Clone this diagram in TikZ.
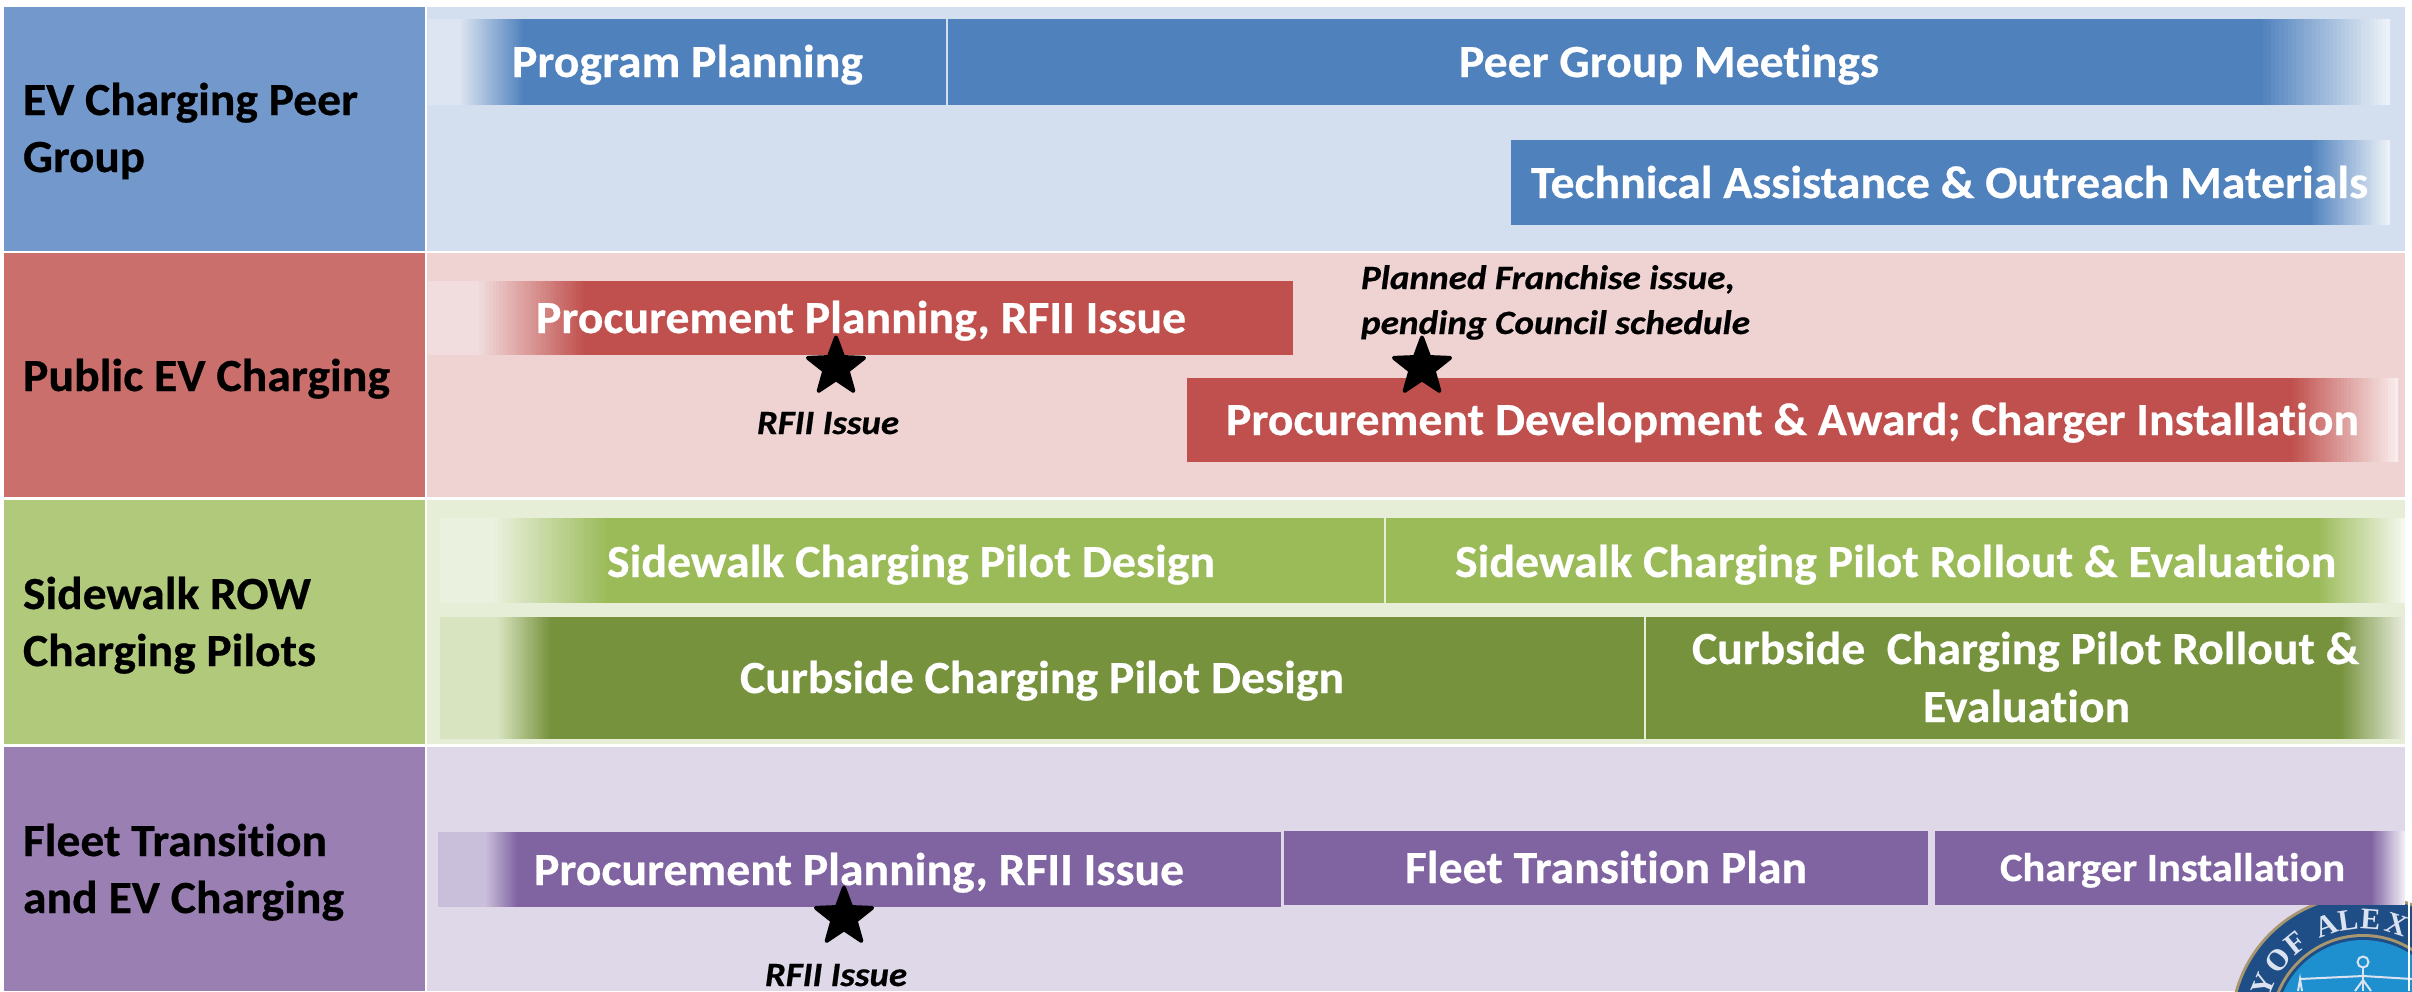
\documentclass[tikz,border=0pt]{standalone}
\usepackage{fontspec}
\usepackage{graphicx}
\setmainfont{Carlito}[Ligatures=NoCommon,BoldFeatures={FakeBold=0.5},BoldItalicFeatures={FakeBold=0.5}]
\newfontfamily\sealfont{Liberation Serif}
\usetikzlibrary{shapes.geometric}
\definecolor{cBlue}{HTML}{4F81BD}\definecolor{cBlueL}{HTML}{7399CC}\definecolor{cBlueB}{HTML}{D3DFEE}\definecolor{cBlueP}{HTML}{DCE5F1}
\definecolor{cRed}{HTML}{C0504D}\definecolor{cRedL}{HTML}{CB6F6C}\definecolor{cRedB}{HTML}{EFD3D3}\definecolor{cRedP}{HTML}{F1DDDD}
\definecolor{cGreen}{HTML}{9BBB59}\definecolor{cGreenL}{HTML}{B1C97B}\definecolor{cGreenB}{HTML}{E6EED7}\definecolor{cGreenP}{HTML}{EBF1DF}
\definecolor{cOlive}{HTML}{76923C}\definecolor{cOliveP}{HTML}{D8E4C0}
\definecolor{cPurple}{HTML}{8064A2}\definecolor{cPurpleL}{HTML}{9A80B2}\definecolor{cPurpleB}{HTML}{DFD8E8}\definecolor{cPurpleP}{HTML}{C9BFDA}
\definecolor{cNavy}{HTML}{1F4E86}\definecolor{cTan}{HTML}{A8966E}\definecolor{cSky}{HTML}{1E90D0}\definecolor{cSealW}{HTML}{DCE3F0}
\tikzset{
  block/.style={anchor=north west,inner sep=0pt,outer sep=0pt,draw=none},
  lbl/.style={anchor=base west,inner sep=0pt,outer sep=0pt},
  mile/.style={star,star points=5,star point ratio=2.4,fill=black,draw=black,line width=4pt,line join=round,inner sep=0pt,minimum size=59pt},
}
% name x1 y1 x2 y2 colour
\newcommand{\gblock}[6]{\pgfmathsetmacro\gw{#4-#2}\pgfmathsetmacro\gh{#5-#3}
  \node[block,fill=#6,minimum width=\gw pt,minimum height=\gh pt] (#1) at (#2,#3) {};}
% name x1 x2 baseline size fontcmd colour text
\newcommand{\gtext}[8]{\pgfmathsetmacro\gw{#3-#2}
  \node[lbl,text=#7] (#1) at (#2,#4) {\resizebox{\gw pt}{\height}{\fontsize{#5}{#5}\selectfont#6#8}};}
% stepped fade from colour A to colour B: xa xb y1 y2 A B
\newcommand{\hfade}[6]{\foreach \k in {0,...,32}{
    \pgfmathsetmacro\pc{\k*100/32}\pgfmathsetmacro\xk{#1+(#2-#1)*\k/32}
    \fill[#6!\pc!#5] (\xk,#3) rectangle (#2,#4);}}
% left fade: x1 xp xg y1 y2 pale col
\newcommand{\fadeL}[7]{\fill[#6] (#1,#4) rectangle (#2,#5);\hfade{#2}{#3}{#4}{#5}{#6}{#7}}
% right fade: xg xp y1 y2 col end
\newcommand{\fadeR}[6]{\hfade{#1}{#2}{#3}{#4}{#5}{#6}}
\begin{document}
\begin{tikzpicture}[x=1pt,y=-1pt]
\useasboundingbox (0,0) rectangle (2412,991);
\fill[white] (0,0) rectangle (2412,991);
% left cells
\gblock{cellA}{4}{7}{425}{251}{cBlueL}
\gblock{cellB}{4}{253}{425}{497}{cRedL}
\gblock{cellC}{4}{500}{425}{744}{cGreenL}
\gblock{cellD}{4}{747}{425}{991}{cPurpleL}
% bands
\gblock{bandA}{427}{7}{2405}{251}{cBlueB}
\gblock{bandB}{427}{253}{2405}{497}{cRedB}
\gblock{bandC}{427}{500}{2405}{744}{cGreenB}
\gblock{bandD}{427}{747}{2405}{991}{cPurpleB}
% seal
\begin{scope}
\clip (2200,880) rectangle (2412,991);
\fill[cTan] (2363,1027) circle (133);
\fill[cNavy] (2363,1027) circle (130);
\fill[cTan] (2363,1027) circle (93);
\fill[cNavy] (2363,1027) circle (90);
\fill[cSky] (2363,1027) circle (87);
\foreach \ltr/\ang in {Y/157,O/142,F/129,A/110,L/98,E/86,X/72}{
  \node[text=cSealW,inner sep=0pt,rotate=\ang-90,font=\sealfont\bfseries\fontsize{30}{30}\selectfont]
    (seal\ltr) at ({2363+108*cos(\ang)},{1027-108*sin(\ang)}) {\ltr};
}
\draw[cSealW,line width=2pt] (2363,962) circle (5.5);
\draw[cSealW,line width=2pt] (2300,979) -- (2363,976) -- (2412,979);
\draw[cSealW,line width=2pt] (2363,968) -- (2363,991);
\draw[cSealW,line width=2pt] (2298,991) -- (2300,979) -- (2302,991);
\draw[cSealW,line width=2pt] (2355,991) -- (2363,980) -- (2371,991);
\draw[white,line width=1.5pt] (2409,880) -- (2409,991);
\end{scope}
% bars
\gblock{barPP}{428}{19}{946}{105}{cBlue}
\gblock{barPG}{948}{19}{2390}{105}{cBlue}
\gblock{barTA}{1511}{140}{2390}{225}{cBlue}
\gblock{barRP}{428}{281}{1293}{355}{cRed}
\gblock{barRD}{1187}{378}{2398}{462}{cRed}
\gblock{barGA}{440}{518}{1384}{603}{cGreen}
\gblock{barGB}{1386}{518}{2405}{603}{cGreen}
\gblock{barOA}{440}{617}{1644}{739}{cOlive}
\gblock{barOB}{1646}{617}{2405}{739}{cOlive}
\gblock{barVA}{438}{832}{1281}{907}{cPurple}
\gblock{barVB}{1284}{831}{1928}{905}{cPurple}
\gblock{barVC}{1935}{831}{2405}{905}{cPurple}
% fades
\fadeL{428}{459}{523}{19}{105}{cBlueP}{cBlue}
\fadeR{2259}{2390}{19}{105}{cBlue}{white!92!cBlue}
\fadeR{2309}{2390}{140}{225}{cBlue}{white!92!cBlue}
\fadeL{428}{476}{583}{281}{355}{cRedP}{cRed}
\fadeR{2290}{2398}{378}{462}{cRed}{white!92!cRed}
\fadeL{440}{491}{606}{518}{603}{cGreenP}{cGreen}
\fadeR{2317}{2405}{518}{603}{cGreen}{white!92!cGreen}
\fadeL{440}{497}{550}{617}{739}{cOliveP}{cOlive}
\fadeR{2340}{2405}{617}{739}{cOlive}{white!85!cOlive}
\fadeL{438}{485}{517}{832}{907}{cPurpleP}{cPurple}
\fadeR{2371}{2405}{831}{905}{cPurple}{white!92!cPurple}
% left labels
\gtext{tA1}{23}{358}{115}{46}{\bfseries}{black}{EV Charging Peer}
\gtext{tA2}{23}{145}{172}{46}{\bfseries}{black}{Group}
\gtext{tB1}{23}{390}{391}{46}{\bfseries}{black}{Public EV Charging}
\gtext{tC1}{23}{311}{609}{46}{\bfseries}{black}{Sidewalk ROW}
\gtext{tC2}{23}{316}{666}{46}{\bfseries}{black}{Charging Pilots}
\gtext{tD1}{23}{327}{856}{46}{\bfseries}{black}{Fleet Transition}
\gtext{tD2}{23}{344}{913}{46}{\bfseries}{black}{and EV Charging}
% bar labels
\gtext{lPP}{512}{863}{77}{46}{\bfseries}{white}{Program Planning}
\gtext{lPG}{1459}{1879}{77}{46}{\bfseries}{white}{Peer Group Meetings}
\gtext{lTA}{1531}{2368}{198}{46}{\bfseries}{white}{Technical Assistance \& Outreach Materials}
\gtext{lRP}{536}{1186}{333}{46}{\bfseries}{white}{Procurement Planning, RFII Issue}
\gtext{lRD}{1226}{2359}{435}{46}{\bfseries}{white}{Procurement Development \& Award; Charger Installation}
\gtext{lGA}{607}{1215}{577}{46}{\bfseries}{white}{Sidewalk Charging Pilot Design}
\gtext{lGB}{1455}{2336}{577}{46}{\bfseries}{white}{Sidewalk Charging Pilot Rollout \& Evaluation}
\gtext{lOA}{740}{1344}{693}{46}{\bfseries}{white}{Curbside Charging Pilot Design}
\gtext{lOB}{1692}{2359}{664}{46}{\bfseries}{white}{Curbside~ Charging Pilot Rollout \&}
\gtext{lOC}{1923}{2130}{722}{46}{\bfseries}{white}{Evaluation}
\gtext{lVA}{534}{1184}{885}{46}{\bfseries}{white}{Procurement Planning, RFII Issue}
\gtext{lVB}{1405}{1807}{883}{46}{\bfseries}{white}{Fleet Transition Plan}
\gtext{lVC}{2000}{2345}{881}{40}{\bfseries}{white}{Charger Installation}
% milestones
\node[mile] (starA) at (836,367) {};
\node[mile] (starB) at (1422,367) {};
\node[mile] (starC) at (844,917) {};
\gtext{nA}{757}{899}{434}{34}{\bfseries\itshape}{black}{RFII Issue}
\gtext{nB}{1361}{1735}{289}{34}{\bfseries\itshape}{black}{Planned Franchise issue,}
\gtext{nC}{1361}{1750}{334}{34}{\bfseries\itshape}{black}{pending Council schedule}
\gtext{nD}{765}{907}{986}{34}{\bfseries\itshape}{black}{RFII Issue}
\end{tikzpicture}
\end{document}
